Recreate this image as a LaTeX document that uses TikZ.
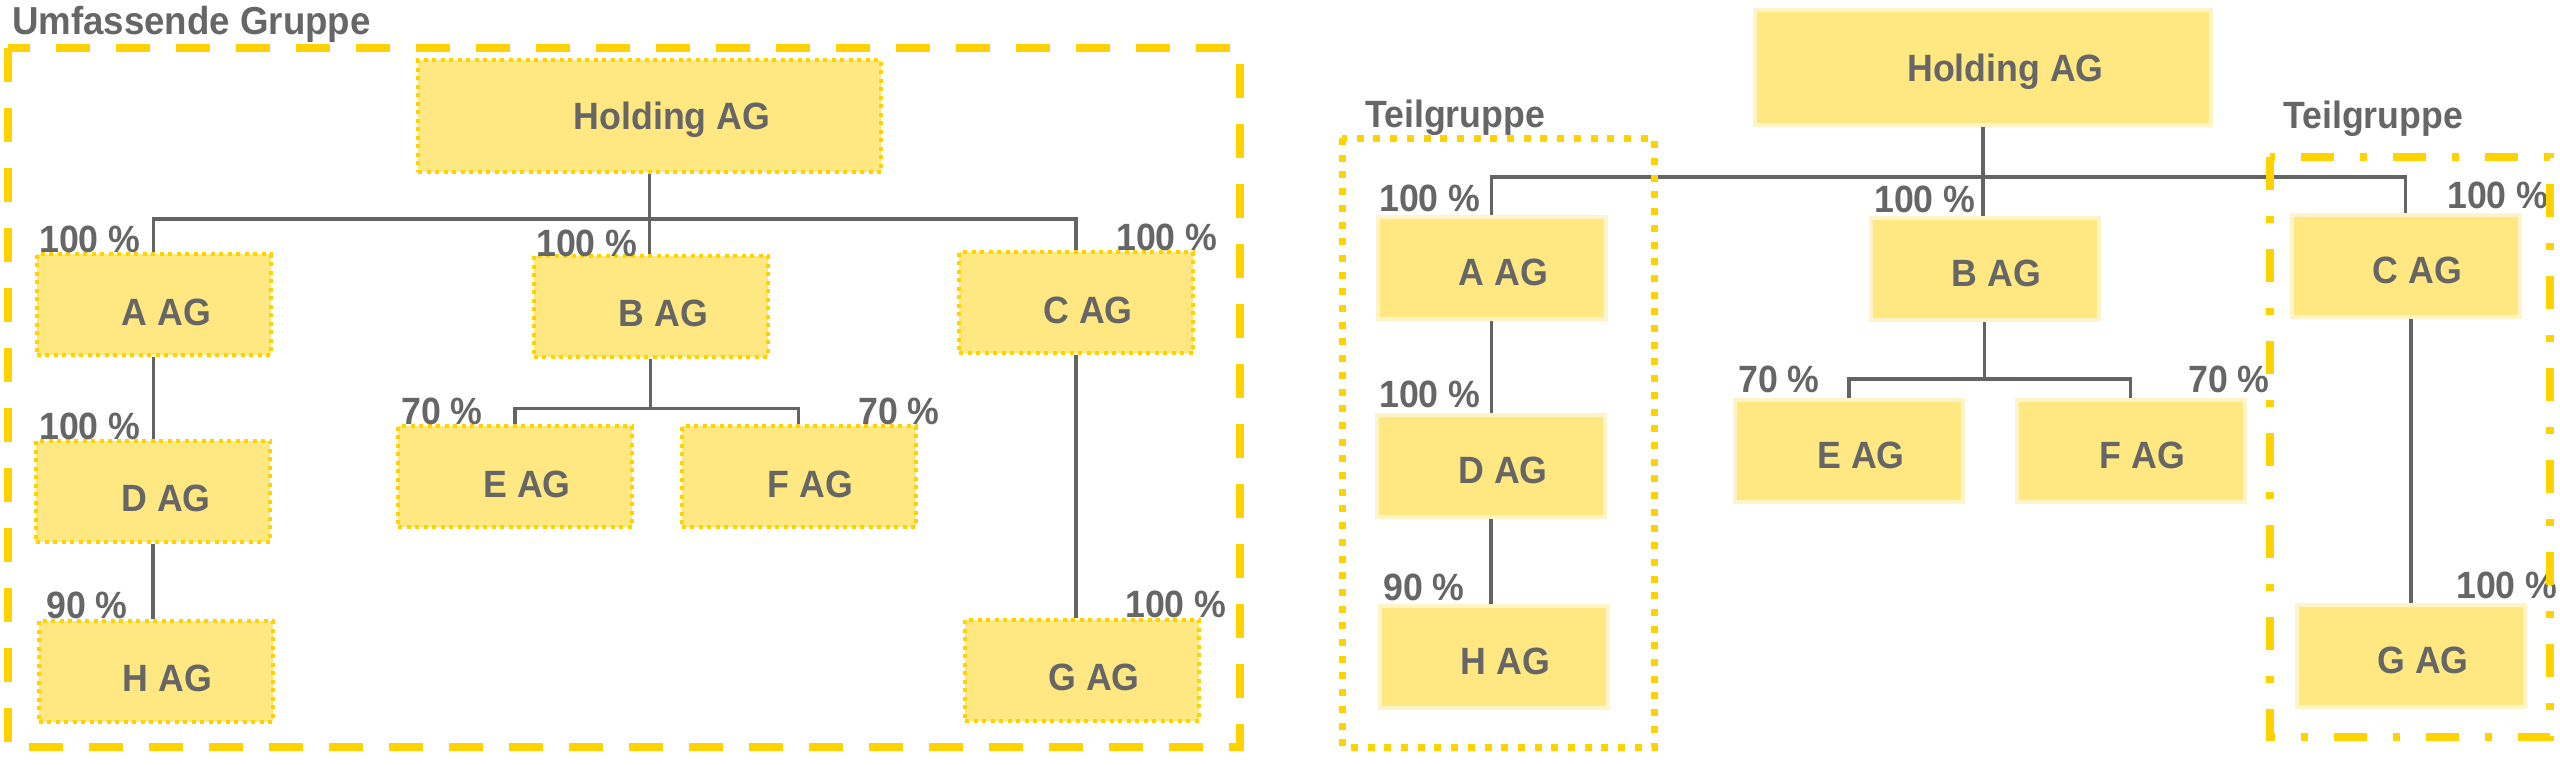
\documentclass[tikz,border=0pt]{standalone}
\usepackage{fontspec}
\setmainfont[FakeStretch=0.94]{Liberation Sans}
\definecolor{boxfill}{RGB}{255,231,130}
\definecolor{gold}{RGB}{255,210,0}
\definecolor{txtgray}{RGB}{102,102,102}
\definecolor{linegray}{RGB}{100,100,100}
\definecolor{paleborder}{RGB}{255,244,200}
\begin{document}
\begin{tikzpicture}[x=1pt,y=-1pt,
  every node/.style={font=\fontsize{38pt}{44pt}\selectfont\bfseries, text=txtgray},
  boxL/.style={rectangle, fill=boxfill, draw=gold, line width=4pt, dash pattern=on 4pt off 4.5pt,
    inner sep=0pt, minimum width=234pt, minimum height=101pt, text height=49.2pt, text depth=8pt},
  boxR/.style={rectangle, fill=boxfill, draw=paleborder, line width=4pt,
    inner sep=0pt, minimum width=228pt, minimum height=102pt, text height=43.2pt, text depth=8pt},
  holdL/.style={boxL, minimum width=463pt, minimum height=112pt, text height=27.2pt, text depth=0pt},
  holdR/.style={boxR, minimum width=456pt, minimum height=115pt, text height=27.2pt, text depth=0pt},
  pct/.style={anchor=base west, inner sep=0pt},
  ttl/.style={pct, font=\fontsize{39pt}{44pt}\selectfont\bfseries},
  conn/.style={draw=linegray, line width=3.8pt},
  frameDash/.style={draw=gold, line width=8pt, dash pattern=on 34pt off 26pt},
  frameDot/.style={draw=gold, line width=7pt, dash pattern=on 7pt off 9.7pt},
  frameDashDot/.style={draw=gold, line width=8pt, dash pattern=on 33pt off 26pt on 7pt off 26pt}
]
\useasboundingbox (0,0) rectangle (2560,764);

% ---------- left: Umfassende Gruppe ----------
\node[ttl] (tU) at (12,34) {Umfassende Gruppe};

\node[holdL] (HL) at (649.5,116) {\hspace*{45pt}Holding AG};
\node[boxL] (AL) at (153.5,304.5) {\hspace*{26pt}A AG};
\node[boxL] (BL) at (650.5,306) {\hspace*{26pt}B AG};
\node[boxL] (CL) at (1076,302.5) {\hspace*{24pt}C AG};
\node[boxL] (DL) at (153,491) {\hspace*{26pt}D AG};
\node[boxL] (HhL) at (155.5,671) {\hspace*{24pt}H AG};
\node[boxL] (EL) at (515,476.5) {\hspace*{24pt}E AG};
\node[boxL] (FL) at (798.5,476.5) {\hspace*{24pt}F AG};
\node[boxL] (GL) at (1082,670) {\hspace*{24pt}G AG};

\path (HL.south) ++(0,45) coordinate (busL);
\draw[conn] (HL.south) -- (HL.south |- BL.north);
\draw[conn] (AL.north) |- (busL) -| (CL.north);
\path (BL.south) ++(0,50) coordinate (busBL);
\draw[conn] (BL.south) -- (busBL);
\draw[conn] (EL.north) |- (busBL) -| (FL.north);
\draw[conn] (AL.south) -- (AL.south |- DL.north);
\draw[conn] (DL.south) -- (DL.south |- HhL.north);
\draw[conn] (CL.south) -- (CL.south |- GL.north);

\node[pct] (pAL) at (39,252) {100 \%};
\node[pct] (pBL) at (536,256) {100 \%};
\node[pct] (pCL) at (1116,250) {100 \%};
\node[pct] (pDL) at (39,439) {100 \%};
\node[pct] (pHL) at (46,618) {90 \%};
\node[pct] (pEL) at (401,424) {70 \%};
\node[pct] (pFL) at (858,424) {70 \%};
\node[pct] (pGL) at (1125,617) {100 \%};

\draw[frameDash] (8,48) rectangle (1240,747);

% ---------- right: Teilgruppen ----------
\node[pct] (tT1) at (1365,127) {Teilgruppe};
\node[pct] (tT2) at (2283,128) {Teilgruppe};

\node[holdR] (HR) at (1983,67.5) {\hspace*{45pt}Holding AG};
\node[boxR] (AR) at (1491.5,268) {\hspace*{24pt}A AG};
\node[boxR] (BR) at (1984.5,269) {\hspace*{24pt}B AG};
\node[boxR] (CR) at (2405.5,266) {\hspace*{24pt}C AG};
\node[boxR] (DR) at (1491,466) {\hspace*{24pt}D AG};
\node[boxR] (HhR) at (1493.5,657) {\hspace*{24pt}H AG};
\node[boxR] (ER) at (1849,450.5) {\hspace*{24pt}E AG};
\node[boxR] (FR) at (2130.5,450.5) {\hspace*{24pt}F AG};
\node[boxR] (GR) at (2411,655.5) {\hspace*{24pt}G AG};

\path (HR.south) ++(0,50) coordinate (busR);
\draw[conn] (HR.south) -- (HR.south |- BR.north);
\draw[conn] (AR.north) |- (busR) -| (CR.north);
\path (BR.south) ++(0,57) coordinate (busBR);
\draw[conn] (BR.south) -- (busBR);
\draw[conn] (ER.north) |- (busBR) -| (FR.north);
\draw[conn] (AR.south) -- (AR.south |- DR.north);
\draw[conn] (DR.south) -- (DR.south |- HhR.north);
\draw[conn] (GR.north |- CR.south) -- (GR.north);

\node[pct] (pAR) at (1379,211) {100 \%};
\node[pct] (pBR) at (1874,212) {100 \%};
\node[pct] (pCR) at (2447,208) {100 \%};
\node[pct] (pDR) at (1379,407) {100 \%};
\node[pct] (pHR) at (1383,600) {90 \%};
\node[pct] (pER) at (1738,392) {70 \%};
\node[pct] (pFR) at (2188,392) {70 \%};
\node[pct] (pGR) at (2456,598) {100 \%};

\draw[frameDot] (1342,138) rectangle (1654,747);
\draw[frameDashDot] (2270,157) rectangle (2550,737);
\end{tikzpicture}
\end{document}
